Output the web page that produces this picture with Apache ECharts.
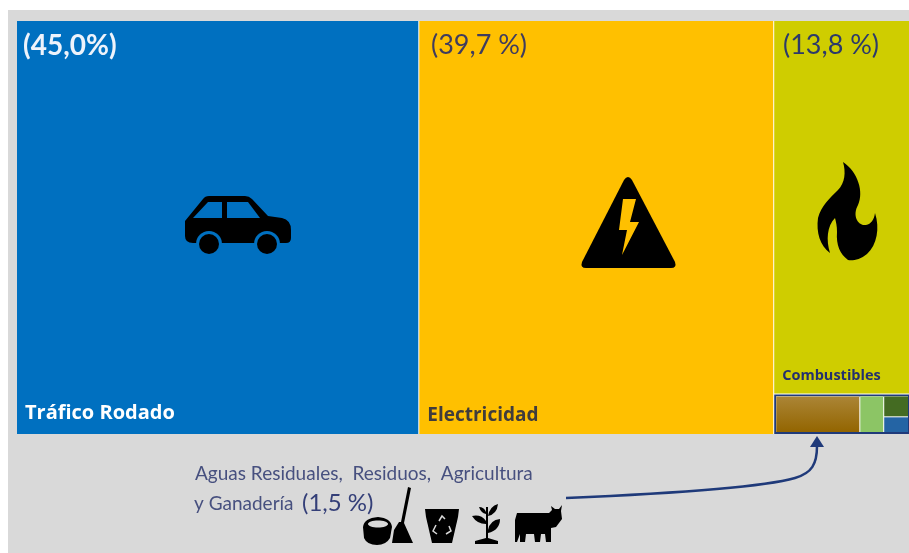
<!DOCTYPE html>
<html>
<head>
<meta charset="utf-8">
<script src="https://cdn.jsdelivr.net/npm/echarts@6/dist/echarts.min.js"></script>
<style>
  html, body { margin: 0; padding: 0; background: #fff; }
  #main { width: 909px; height: 553px; }
</style>
</head>
<body>
<div id="main"></div>
<script>
var sectorNames = ['Tráfico Rodado', 'Electricidad', 'Combustibles', 'Otros']
var sectorValues = [45.0, 39.7, 13.8, 1.5]
var sectorShares = ['(45,0%)', '(39,7 %)', '(13,8 %)']
var subNames = ['Agricultura', 'Ganadería', 'Residuos', 'Aguas Residuales']
var subValues = [0.95, 0.27, 0.16, 0.12]

var sectorColors = ['#0070c0', '#ffc000', '#cfcd00']
var subColors = ['#9a6f12', '#8cc565', '#446b22', '#2464a4']
var labelColors = ['#fff', '#403c3c', '#23306e']
var labelSizes = [20, 19, 14.5]
var labelOffsetY = [-3, -1, -2]
var shareColors = ['#eef3fb', '#3f3c5e', '#2c3a6a']
var shareWeights = ['bold 28px', '27px', '27px']
var shareX = [23, 431, 783]

var navy = '#1f3a7a'

var chart = echarts.init(document.getElementById('main'))

// el componente graphic no acepta type path, hay que registrar cada forma
var shapeCount = 0
function pathEl(d, style) {
  var name = 'iconShape' + (shapeCount++)
  echarts.graphic.registerShape(name, echarts.graphic.extendPath(d, {}))
  return { type: name, silent: true, z: 100, style: style }
}
function icon(d, fill) {
  return pathEl(d, { fill: fill || '#000' })
}
function share(i) {
  return {
    type: 'text', silent: true, z: 100, left: shareX[i], top: 32,
    style: { text: sectorShares[i], fill: shareColors[i], font: shareWeights[i] + ' Lato' }
  }
}

var data = sectorNames.map(function(name, i) {
  if (i < 3) {
    return {
      name: name,
      value: sectorValues[i],
      itemStyle: { color: sectorColors[i] },
      label: { color: labelColors[i], fontSize: labelSizes[i], offset: [0, labelOffsetY[i]] }
    }
  }
  // borde azul por fuera y huecos blancos por dentro, por eso el nodo intermedio
  return {
    name: name,
    value: sectorValues[i],
    itemStyle: { borderColor: navy, borderWidth: 2, gapWidth: 0 },
    children: [{
      name: name + ' detalle',
      value: sectorValues[i],
      itemStyle: { borderColor: '#fff', borderWidth: 0, gapWidth: 1 },
      children: subNames.map(function(sub, j) {
        var color = subColors[j]
        if (j === 0) {
          color = new echarts.graphic.LinearGradient(0, 0, 0, 1, [
            { offset: 0, color: '#ab8536' },
            { offset: 1, color: '#936500' }
          ])
        }
        return {
          name: sub,
          value: subValues[j],
          itemStyle: { color: color, borderWidth: 0 },
          label: { show: false }
        }
      })
    }]
  }
})

chart.setOption({
  animation: false,
  backgroundColor: '#fff',
  graphic: [
    { type: 'rect', silent: true, z: -10, shape: { x: 8, y: 10, width: 901, height: 543 }, style: { fill: '#d9d9d9' } },
    share(0),
    share(1),
    share(2),
    // coche
    icon('M185 221 L203 199 Q205 196 209 196 L245 196 Q249 196 252 199 L268 216 L282 218 Q291 220 291 230 L291 238 Q291 243 286 243 L193 243 Q185 243 185 236 Z'),
    icon('M193 218 L208 202 L222 202 L222 218 Z M227 202 L248 202 L260 218 L227 218 Z', '#0070c0'),
    { type: 'circle', silent: true, z: 100, shape: { cx: 209, cy: 244, r: 13 }, style: { fill: '#0070c0' } },
    { type: 'circle', silent: true, z: 100, shape: { cx: 267, cy: 244, r: 13 }, style: { fill: '#0070c0' } },
    { type: 'circle', silent: true, z: 101, shape: { cx: 209, cy: 244, r: 10 }, style: { fill: '#000' } },
    { type: 'circle', silent: true, z: 101, shape: { cx: 267, cy: 244, r: 10 }, style: { fill: '#000' } },
    // triangulo
    icon('M624 180 Q628 174 632 180 L675 262 Q677 268 671 268 L586 268 Q580 268 582 262 Z'),
    icon('M623 199 L636 199 L630 222 L639 222 L622 255 L627 230 L619 230 Z', '#ffc000'),
    // llama
    icon('M843 162 C858 172 864 192 858 205 C852 216 858 226 866 225 C871 224 874 220 875 213 C880 228 877 245 867 254 C860 260 852 261 848 260 C840 254 836 245 837 232 C837 226 836 222 835 218 C827 226 826 240 830 253 C820 246 816 232 818 218 C821 206 830 198 838 190 C845 183 846 172 843 162 Z'),
    // cubo
    icon('M363 527 Q364 518 378 517 Q391 518 392 527 L390 538 Q386 545 377 545 Q367 545 364 538 Z'),
    { type: 'ellipse', silent: true, z: 101, shape: { cx: 378, cy: 524, rx: 10, ry: 3.5 }, style: { fill: '#d9d9d9' } },
    // escoba
    icon('M408 487 L411 488 L404 523 L413 543 L392 543 L394 530 L399 522 L401 522 Z'),
    // papelera
    icon('M425 509 L459 509 L458 517 L452 543 L432 543 L426 517 Z'),
    pathEl('M445 519 L442 516 L439 521 M449 526 L451 531 L446 534 M437 534 L433 531 L436 525', { fill: 'none', stroke: '#d9d9d9', lineWidth: 1.5 }),
    // planta
    icon('M486 507 L488 507 L488 538 L498 541 L498 544 L475 544 L475 541 L486 538 Z'),
    icon('M488 516 Q490 506 498 504 Q497 514 488 516 Z M486 521 Q481 514 472 516 Q477 524 486 524 Z M488 530 Q490 520 500 519 Q500 530 488 533 Z M486 512 Q484 507 479 507 Q481 513 486 514 Z'),
    // vaca
    icon('M517 513 L549 513 L552 510 L551 506 L555 509 L559 509 L562 505 L561 511 L562 519 L556 527 L551 528 L551 542 L546 542 L545 534 L541 534 L540 542 L535 542 L534 534 L526 534 L525 542 L520 542 L520 534 L517 542 L515 542 L515 520 Z'),
    // flecha
    pathEl('M566 498 C660 494 760 488 795 478 C812 473 817 464 817 446', { fill: 'none', stroke: navy, lineWidth: 2.5 }),
    icon('M817 436 L824 447 L810 447 Z', navy),
    {
      type: 'text', silent: true, z: 100, left: 195, top: 464,
      style: { text: 'Aguas Residuales,  Residuos,  Agricultura', fill: '#47507f', font: '19px Lato' }
    },
    {
      type: 'text', silent: true, z: 100, left: 194, top: 494,
      style: { text: 'y Ganadería', fill: '#47507f', font: '19px Lato' }
    },
    {
      type: 'text', silent: true, z: 100, left: 302, top: 491,
      style: { text: '(1,5 %)', fill: '#343f78', font: '24px Lato' }
    }
  ],
  series: [{
    type: 'treemap',
    left: 17,
    top: 21,
    width: 893,
    height: 413,
    squareRatio: 1,
    roam: false,
    nodeClick: false,
    breadcrumb: { show: false },
    visibleMin: 0,
    childrenVisibleMin: 0,
    label: {
      show: true,
      position: 'insideBottomLeft',
      fontFamily: 'Open Sans',
      fontWeight: 'bold',
      padding: 0,
      distance: 8
    },
    upperLabel: { show: false },
    levels: [
      { itemStyle: { borderColor: '#fff', borderWidth: 0, gapWidth: 1 } },
      { itemStyle: { borderWidth: 0, gapWidth: 0 } },
      { itemStyle: { borderWidth: 0, gapWidth: 0 } },
      { itemStyle: { borderWidth: 0, gapWidth: 0 } }
    ],
    data: data
  }]
})
</script>
</body>
</html>
